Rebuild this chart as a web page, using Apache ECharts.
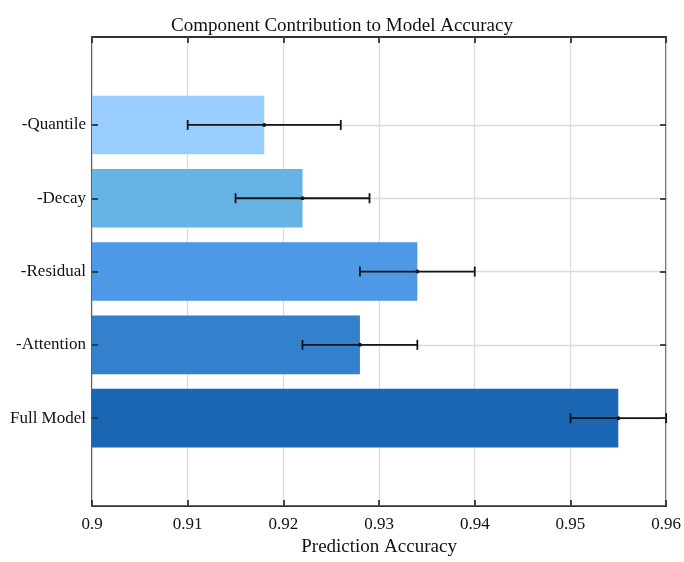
<!DOCTYPE html>
<html>
<head>
<meta charset="utf-8">
<script src="https://cdn.jsdelivr.net/npm/echarts@6/dist/echarts.min.js"></script>
<style>
  html, body { margin: 0; padding: 0; background: #fff; }
  #chart { width: 684px; height: 562px; }
</style>
</head>
<body>
<div id="chart"></div>
<script>
// bottom to top
var categories = ['Full Model', '-Attention', '-Residual', '-Decay', '-Quantile'];
var accuracy = [0.955, 0.928, 0.934, 0.922, 0.918];
var errors = [0.005, 0.006, 0.006, 0.007, 0.008];
var barColors = ['#1a66b3', '#3380cc', '#4d99e6', '#66b3e6', '#99ccff'];
var xTicks = [0.9, 0.91, 0.92, 0.93, 0.94, 0.95, 0.96];
var yTicks = [1, 2, 3, 4, 5];

var FONT = 'Liberation Serif';

function barData() {
  var out = [];
  for (var i = 0; i < categories.length; i++) {
    out.push({ value: [accuracy[i], i + 1], itemStyle: { color: barColors[i] } });
  }
  return out;
}

function errData() {
  var out = [];
  for (var i = 0; i < categories.length; i++) {
    out.push([accuracy[i], i + 1, errors[i]]);
  }
  return out;
}

function renderBar(params, api) {
  var y = api.value(1);
  var start = api.coord([xTicks[0], y]);
  var end = api.coord([api.value(0), y]);
  var h = api.size([0, 1])[1] * 0.8;
  return {
    type: 'rect',
    shape: { x: start[0], y: start[1] - h / 2, width: end[0] - start[0], height: h },
    style: { fill: api.visual('color') }
  };
}

function renderErr(params, api) {
  var x = api.value(0), y = api.value(1), e = api.value(2);
  var lo = api.coord([x - e, y]);
  var hi = api.coord([x + e, y]);
  var mid = api.coord([x, y]);
  var cap = 5;
  var st = { stroke: '#141414', lineWidth: 1.8 };
  return {
    type: 'group',
    children: [
      { type: 'line', shape: { x1: lo[0], y1: lo[1], x2: hi[0], y2: hi[1] }, style: st },
      { type: 'line', shape: { x1: lo[0], y1: lo[1] - cap, x2: lo[0], y2: lo[1] + cap }, style: st },
      { type: 'line', shape: { x1: hi[0], y1: hi[1] - cap, x2: hi[0], y2: hi[1] + cap }, style: st },
      { type: 'circle', shape: { cx: mid[0], cy: mid[1], r: 2 }, style: { fill: '#141414' } }
    ]
  };
}

function getOption() {
  var tickStyle = { color: '#333', width: 1.8 };
  var tickOnly = {
    axisLine: { show: false, onZero: false },
    axisTick: { show: true, inside: true, length: 6, lineStyle: tickStyle },
    axisLabel: { show: false },
    splitLine: { show: false }
  };
  var option = {
    animation: false,
    backgroundColor: '#fff',
    title: {
      text: 'Component Contribution to Model Accuracy',
      left: 'center',
      top: 12,
      textStyle: { fontFamily: FONT, fontSize: 19, fontWeight: 'normal', color: '#111' }
    },
    grid: {
      left: 92, right: 17, top: 37, bottom: 50,
      show: true, borderColor: '#333', borderWidth: 1.8, backgroundColor: 'transparent'
    },
    xAxis: [
      {
        type: 'value', position: 'bottom', min: 0.9, max: 0.96, interval: 0.01,
        name: 'Prediction Accuracy', nameLocation: 'middle', nameGap: 31,
        nameTextStyle: { fontFamily: FONT, fontSize: 19, color: '#111' },
        axisLine: { show: false, onZero: false },
        axisTick: { show: true, inside: true, length: 6, lineStyle: tickStyle },
        axisLabel: {
          fontFamily: FONT, fontSize: 17, color: '#111', margin: 10,
          formatter: function (v) { return String(+v.toFixed(2)); }
        },
        splitLine: { show: true, lineStyle: { color: '#dcdcdc', width: 1.3 } }
      },
      Object.assign({ type: 'value', position: 'top', min: 0.9, max: 0.96, interval: 0.01, z: 10 }, tickOnly)
    ],
    yAxis: [
      {
        type: 'value', position: 'left', min: -0.2, max: 6.2,
        axisLine: { show: false, onZero: false },
        axisTick: { show: false, customValues: yTicks },
        axisLabel: {
          customValues: yTicks, fontFamily: FONT, fontSize: 17, color: '#111', margin: 6,
          formatter: function (v) { return categories[Math.round(v) - 1] || ''; }
        },
        splitLine: { show: true, lineStyle: { color: '#dcdcdc', width: 1.3 } }
      },
      Object.assign({ type: 'value', position: 'right', min: -0.2, max: 6.2, z: 10 }, tickOnly,
        { axisTick: { show: true, inside: true, length: 6, customValues: yTicks, lineStyle: tickStyle } }),
      Object.assign({ type: 'value', position: 'left', min: -0.2, max: 6.2, z: 10 }, tickOnly,
        { axisTick: { show: true, inside: true, length: 6, customValues: yTicks, lineStyle: tickStyle } })
    ],
    series: [
      {
        type: 'custom', name: 'bars', xAxisIndex: 0, yAxisIndex: 0,
        renderItem: renderBar, encode: { x: 0, y: 1 }, data: barData(), z: 2
      },
      {
        type: 'custom', name: 'errors', xAxisIndex: 0, yAxisIndex: 0,
        renderItem: renderErr, encode: { x: 0, y: 1 }, data: errData(), z: 5
      }
    ]
  };
  return option;
}

var myChart = echarts.init(document.getElementById('chart'), null, { renderer: 'canvas' });
myChart.setOption(getOption());
</script>
</body>
</html>
